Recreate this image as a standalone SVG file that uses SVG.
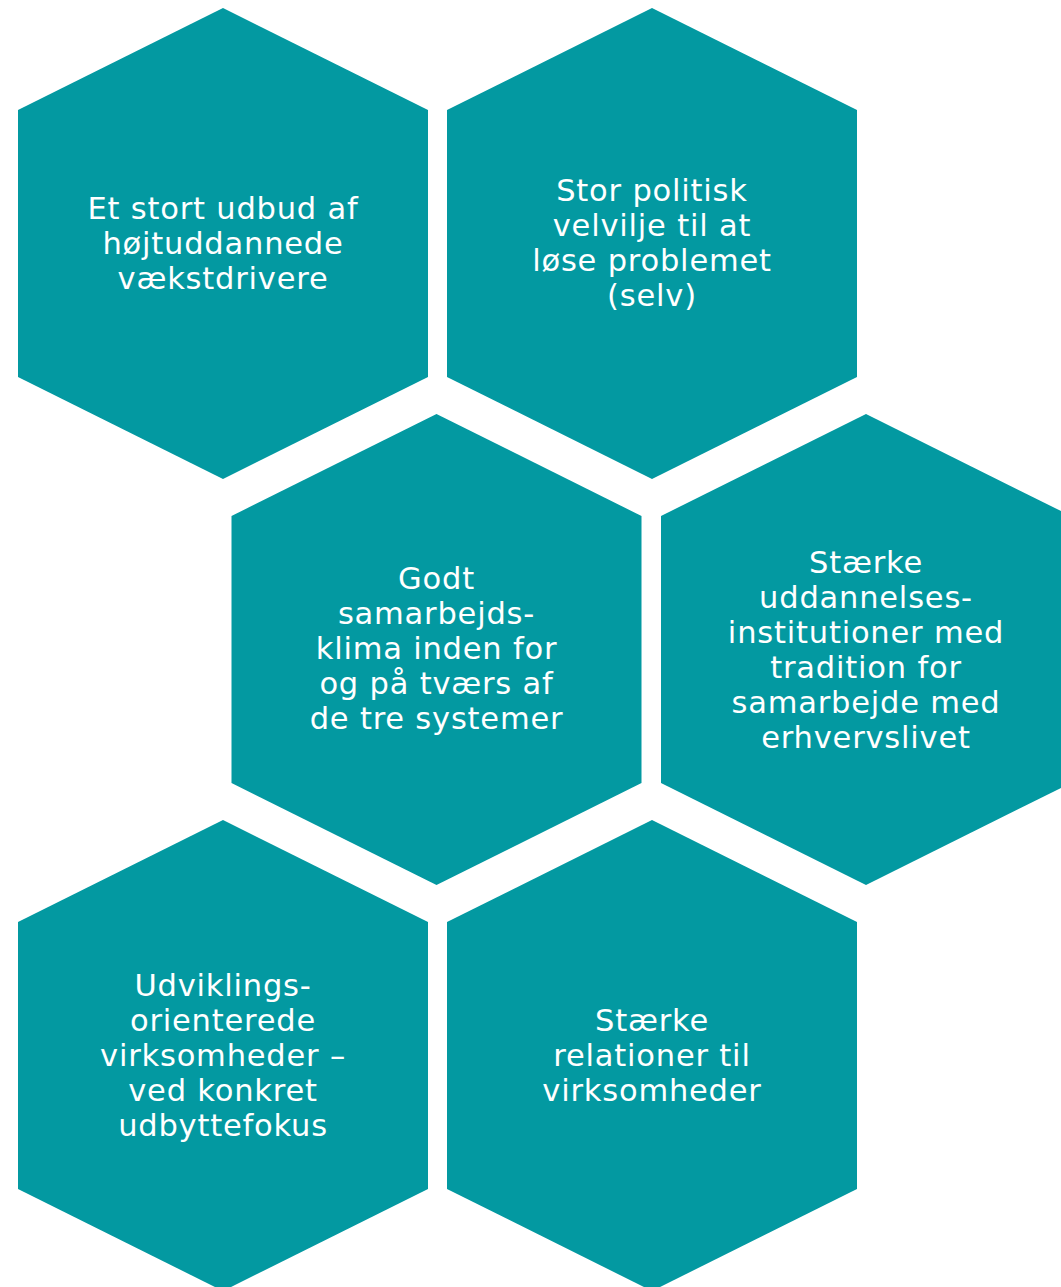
<svg xmlns="http://www.w3.org/2000/svg" width="1061" height="1287" viewBox="0 0 1061 1287">
<style>
.hex{fill:#0399a1}
.t{font-family:"DejaVu Sans","Verdana",sans-serif;font-size:30.5px;fill:#ffffff;text-anchor:middle;letter-spacing:0.8px}
</style>
<defs>
<polygon id="h" points="0,-235.5 205,-133.5 205,133.5 0,235.5 -205,133.5 -205,-133.5"/>
</defs>
<rect width="1061" height="1287" fill="#ffffff"/>
<g id="connectors"/>
<g id="node1">
<use href="#h" class="hex" x="223" y="243.5"/>
<text class="t" x="223"><tspan x="223" y="218.5">Et stort udbud af</tspan><tspan x="223" y="253.5">højtuddannede</tspan><tspan x="223" y="288.5">vækstdrivere</tspan></text>
</g>
<g id="node2">
<use href="#h" class="hex" x="652" y="243.5"/>
<text class="t" x="652"><tspan x="652" y="201">Stor politisk</tspan><tspan x="652" y="236">velvilje til at</tspan><tspan x="652" y="271">løse problemet</tspan><tspan x="652" y="306">(selv)</tspan></text>
</g>
<g id="node3">
<use href="#h" class="hex" x="436.5" y="649.5"/>
<text class="t" x="436.5"><tspan x="436.5" y="589">Godt</tspan><tspan x="436.5" y="624">samarbejds-</tspan><tspan x="436.5" y="659">klima inden for</tspan><tspan x="436.5" y="694">og på tværs af</tspan><tspan x="436.5" y="729">de tre systemer</tspan></text>
</g>
<g id="node4">
<use href="#h" class="hex" x="866" y="649.5"/>
<text class="t" x="866"><tspan x="866" y="573">Stærke</tspan><tspan x="866" y="608">uddannelses-</tspan><tspan x="866" y="643">institutioner med</tspan><tspan x="866" y="678">tradition for</tspan><tspan x="866" y="713">samarbejde med</tspan><tspan x="866" y="748">erhvervslivet</tspan></text>
</g>
<g id="node5">
<use href="#h" class="hex" x="223" y="1055.5"/>
<text class="t" x="223"><tspan x="223" y="996">Udviklings-</tspan><tspan x="223" y="1031">orienterede</tspan><tspan x="223" y="1066">virksomheder –</tspan><tspan x="223" y="1101">ved konkret</tspan><tspan x="223" y="1136">udbyttefokus</tspan></text>
</g>
<g id="node6">
<use href="#h" class="hex" x="652" y="1055.5"/>
<text class="t" x="652"><tspan x="652" y="1031">Stærke</tspan><tspan x="652" y="1066">relationer til</tspan><tspan x="652" y="1101">virksomheder</tspan></text>
</g>
</svg>
